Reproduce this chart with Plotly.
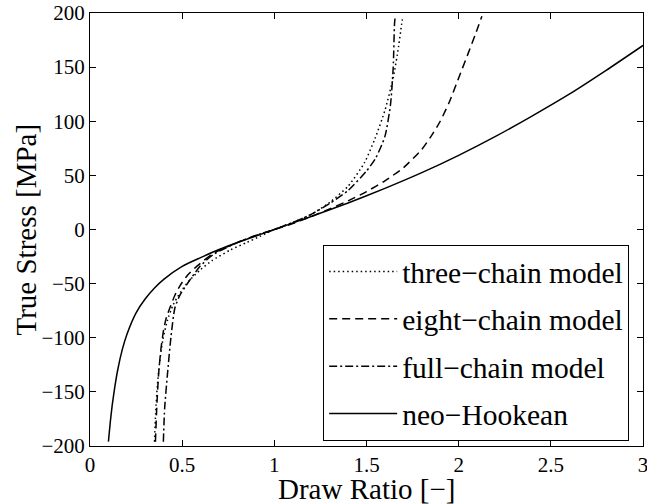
import plotly.graph_objects as go

# neo-Hookean (solid)
lam_nh = [0.10, 0.11, 0.12, 0.135, 0.15, 0.175, 0.2, 0.25, 0.3, 0.35, 0.4, 0.5, 0.6, 0.7, 0.8, 0.9,
          1.0, 1.2, 1.4, 1.6, 1.8, 2.0, 2.2, 2.4, 2.6, 2.8, 3.0]
sig_nh = [-196, -178, -163, -145, -130, -111, -97, -77, -64, -54, -46, -34, -26, -18.5, -12, -6,
          0, 12, 24.5, 38, 52.5, 68.5, 86, 105, 125, 147, 170]

# three-chain model (dotted)
lam_3ch = [0.350, 0.356, 0.365, 0.378, 0.395, 0.42, 0.45, 0.49, 0.54, 0.60, 0.66, 0.76, 0.85, 0.92,
           1.0, 1.1, 1.2, 1.3, 1.4, 1.49, 1.546, 1.60, 1.646, 1.674, 1.69, 1.698]
sig_3ch = [-196, -170, -145, -122, -102, -84, -70, -58, -47, -37, -29, -19, -12, -6.5,
           0, 6.5, 14, 25, 40, 62, 84, 110, 141, 169, 189, 197]

# eight-chain model (dashed)
lam_8ch = [0.355, 0.362, 0.372, 0.385, 0.40, 0.415, 0.434, 0.46, 0.488, 0.53, 0.579, 0.67, 0.8, 0.9,
           1.0, 1.1, 1.2, 1.3, 1.4, 1.5, 1.6, 1.7, 1.8, 1.85, 1.9, 1.95, 2.0, 2.05, 2.09, 2.126]
sig_8ch = [-196, -165, -134, -110, -92, -81, -72, -61, -52, -42, -34, -22, -12, -5.5,
           0, 5.5, 12, 19, 26.5, 35, 45, 57, 74, 86, 100, 118, 140, 162, 180, 197]

# full-chain model (dash-dot)
lam_full = [0.398, 0.405, 0.42, 0.44, 0.461, 0.49, 0.524, 0.597, 0.67, 0.8, 0.9,
            1.0, 1.1, 1.2, 1.3, 1.4, 1.5, 1.55, 1.6, 1.63, 1.645, 1.652, 1.656]
sig_full = [-196, -165, -134, -98, -72, -60, -51, -34, -23, -12, -5.5,
            0, 6.5, 14, 24, 36, 54, 66, 86, 115, 150, 190, 197]

x_ticks = [0, 0.5, 1, 1.5, 2, 2.5, 3]
x_ticklabels = ["0", "0.5", "1", "1.5", "2", "2.5", "3"]
y_ticks = [-200, -150, -100, -50, 0, 50, 100, 150, 200]
y_ticklabels = ["\u2212200", "\u2212150", "\u2212100", "\u221250", "0", "50", "100", "150", "200"]

series = [
    ("three\u2212chain model", lam_3ch, sig_3ch, "1.5px,3px"),
    ("eight\u2212chain model", lam_8ch, sig_8ch, "8px,5px"),
    ("full\u2212chain model", lam_full, sig_full, "8px,3px,2px,3px"),
    ("neo\u2212Hookean", lam_nh, sig_nh, "solid"),
]

FONT = "Liberation Serif"

fig = go.Figure()
for i, (name, x, y, dash) in enumerate(series):
    fig.add_trace(go.Scatter(x=x, y=y, mode="lines", name=name, legendgroup=str(i),
                             line=dict(color="black", width=1.5, dash=dash,
                                       shape="spline", smoothing=0.6)))

axis_common = dict(ticks="inside", ticklen=6, tickwidth=1, tickcolor="black",
                   mirror="allticks", showline=True, linecolor="black", linewidth=1,
                   showgrid=False, zeroline=False, automargin=False,
                   tickfont=dict(family=FONT, size=21, color="black"))

fig.update_layout(
    width=647, height=504,
    margin=dict(l=90, r=4, t=13, b=58),
    paper_bgcolor="white", plot_bgcolor="white",
    font=dict(family=FONT, size=21, color="black"),
    showlegend=True,
    legend=dict(x=0.975, xanchor="right", y=0.012, yanchor="bottom",
                bgcolor="white", bordercolor="black", borderwidth=1,
                font=dict(size=29.5, family=FONT, color="black"),
                tracegroupgap=6, itemwidth=68),
    xaxis=dict(range=[0, 3], tickvals=x_ticks, ticktext=x_ticklabels,
               ticklabeloverflow="allow", ticklabelstandoff=0, **axis_common),
    yaxis=dict(range=[-200, 200], tickvals=y_ticks, ticktext=y_ticklabels, **axis_common),
    annotations=[
        dict(text="Draw Ratio [\u2212]", xref="paper", yref="paper", x=0.5, y=0,
             xanchor="center", yanchor="middle", yshift=-43, showarrow=False,
             font=dict(family=FONT, size=29, color="black")),
        dict(text="True Stress [MPa]", xref="paper", yref="paper", x=0, y=0.5,
             xanchor="center", yanchor="middle", xshift=-65, textangle=-90, showarrow=False,
             font=dict(family=FONT, size=29, color="black")),
    ],
)
fig.write_html("out.html")
